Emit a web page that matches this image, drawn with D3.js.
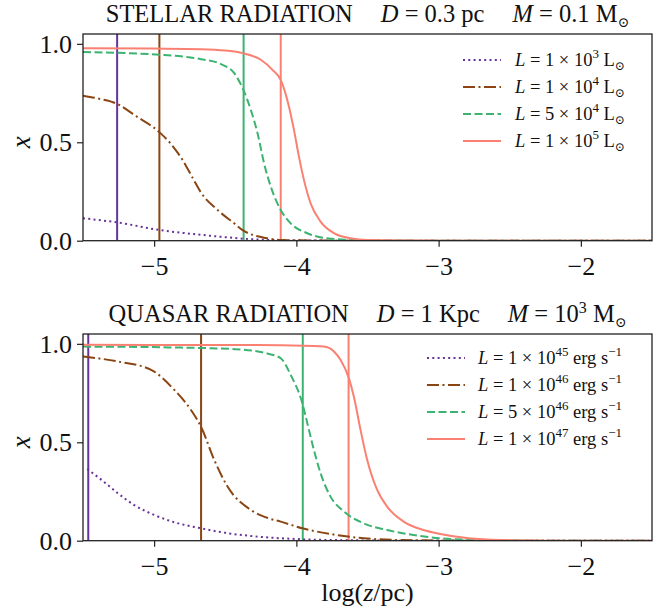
<!DOCTYPE html>
<html>
<head>
<meta charset="utf-8">
<script src="https://cdn.jsdelivr.net/npm/d3@7"></script>
<style>
  body { margin: 0; background: #fff; }
  text { font-family: "Liberation Serif", "DejaVu Serif", serif; fill: #111; }
</style>
</head>
<body>
<svg id="canvas" width="670" height="616"></svg>
<script>
// ---- data: [log(z/pc), x] ----
const stellar1e3 = [[-5.5,0.114],[-5.26,0.093],[-4.96,0.054],[-4.7,0.032],[-4.5,0.018],[-4.37,0.010],[-4.2,0.004],[-4.0,0.001],[-3.5,0],[-1.5,0]];
const stellar1e4 = [[-5.5,0.737],[-5.38,0.72],[-5.26,0.695],[-5.14,0.639],[-4.96,0.549],[-4.88,0.49],[-4.80,0.41],[-4.73,0.32],[-4.671,0.245],[-4.554,0.156],[-4.437,0.088],[-4.378,0.054],[-4.203,0.012],[-4.11,0.004],[-3.9,0.001],[-3.5,0],[-1.5,0]];
const stellar5e4 = [[-5.5,0.958],[-5.2,0.953],[-4.96,0.945],[-4.8,0.936],[-4.671,0.922],[-4.53,0.897],[-4.437,0.851],[-4.378,0.775],[-4.32,0.664],[-4.273,0.546],[-4.227,0.393],[-4.18,0.275],[-4.11,0.156],[-4.04,0.088],[-3.923,0.038],[-3.783,0.012],[-3.6,0.004],[-3.3,0.001],[-3.0,0],[-1.5,0]];
const stellar1e5 = [[-5.5,0.978],[-5.0,0.976],[-4.671,0.973],[-4.5,0.966],[-4.378,0.953],[-4.25,0.919],[-4.168,0.868],[-4.11,0.817],[-4.052,0.681],[-4.017,0.563],[-3.982,0.427],[-3.947,0.309],[-3.9,0.19],[-3.83,0.097],[-3.736,0.038],[-3.62,0.012],[-3.5,0.003],[-3.2,0.001],[-2.8,0],[-1.5,0]];

const quasar1e45 = [[-5.47,0.364],[-5.37,0.309],[-5.255,0.241],[-5.14,0.181],[-5.0,0.131],[-4.85,0.092],[-4.67,0.063],[-4.5,0.04],[-4.32,0.024],[-3.95,0.007],[-3.6,0.002],[-3.2,0],[-1.5,0]];
const quasar1e46 = [[-5.5,0.936],[-5.254,0.91],[-5.021,0.868],[-4.858,0.766],[-4.741,0.664],[-4.671,0.58],[-4.577,0.41],[-4.484,0.275],[-4.32,0.156],[-4.2,0.115],[-4.11,0.097],[-3.958,0.063],[-3.76,0.034],[-3.526,0.012],[-3.3,0.004],[-3.0,0.001],[-2.7,0],[-1.5,0]];
const quasar5e46 = [[-5.5,0.986],[-4.9,0.982],[-4.43,0.973],[-4.2,0.95],[-4.11,0.927],[-4.04,0.842],[-3.958,0.698],[-3.923,0.597],[-3.877,0.461],[-3.83,0.343],[-3.76,0.224],[-3.666,0.148],[-3.526,0.088],[-3.362,0.054],[-3.176,0.029],[-2.99,0.012],[-2.79,0.005],[-2.5,0.001],[-2.2,0],[-1.5,0]];
const quasar1e47 = [[-5.5,0.995],[-4.5,0.994],[-4.11,0.993],[-3.807,0.986],[-3.736,0.961],[-3.69,0.919],[-3.631,0.826],[-3.596,0.732],[-3.549,0.563],[-3.502,0.41],[-3.432,0.258],[-3.362,0.173],[-3.246,0.097],[-3.106,0.054],[-2.989,0.034],[-2.788,0.012],[-2.554,0.003],[-2.2,0],[-1.5,0]];

// ionisation-front positions (vertical lines)
const stellarFronts = [-5.26, -4.963, -4.371, -4.11];
const quasarFronts = [-5.463, -4.67, -3.955, -3.633];

const stellarMantissa = ["1", "1", "5", "1"];
const stellarExponent = ["3", "4", "4", "5"];
const quasarMantissa = ["1", "1", "5", "1"];
const quasarExponent = ["45", "46", "46", "47"];

const xTicks = [-5, -4, -3, -2];
const yTicks = [0, 0.5, 1.0];

const colors = ["rebeccapurple", "saddlebrown", "mediumseagreen", "salmon"];
const dashes = ["2,3.3", "12,3.5,2,3.5", "8,3.5", null];

const svg = d3.select("#canvas");

const left = 83, right = 652;
const x = d3.scaleLinear().domain([-5.5, -1.5]).range([left, right]);

const panels = [
    { top: 34, bottom: 240.7, title: "STELLAR RADIATION", D: "0.3 pc", M: "0.1",
      curves: [stellar1e3, stellar1e4, stellar5e4, stellar1e5], fronts: stellarFronts,
      mant: stellarMantissa, expo: stellarExponent, unit: "sun",
      legX: 463, legY: 60, textX: 515 },
    { top: 334, bottom: 540.7, title: "QUASAR RADIATION", D: "1 Kpc", M: "10^3",
      curves: [quasar1e45, quasar1e46, quasar5e46, quasar1e47], fronts: quasarFronts,
      mant: quasarMantissa, expo: quasarExponent, unit: "erg",
      legX: 427, legY: 358, textX: 478 }
];

panels.forEach((p, pi) => {
    const y = d3.scaleLinear().domain([0, 1.05]).range([p.bottom, p.top]);
    const g = svg.append("g");

    const clipId = "clip" + pi;
    svg.append("clipPath").attr("id", clipId)
        .append("rect").attr("x", left).attr("y", p.top).attr("width", right - left).attr("height", p.bottom - p.top);

    const plot = g.append("g").attr("clip-path", `url(#${clipId})`);

    const line = d3.line().x(d => x(d[0])).y(d => y(d[1])).curve(d3.curveMonotoneX);

    p.fronts.forEach((f, i) => {
        plot.append("line")
            .attr("x1", x(f)).attr("x2", x(f))
            .attr("y1", p.top).attr("y2", p.bottom)
            .attr("stroke", colors[i]).attr("stroke-width", 2);
    });

    p.curves.forEach((c, i) => {
        plot.append("path")
            .attr("d", line(c))
            .attr("fill", "none")
            .attr("stroke", colors[i])
            .attr("stroke-width", 2)
            .attr("stroke-dasharray", dashes[i]);
    });

    // frame
    g.append("rect")
        .attr("x", left).attr("y", p.top)
        .attr("width", right - left).attr("height", p.bottom - p.top)
        .attr("fill", "none").attr("stroke", "#222").attr("stroke-width", 1.3);

    const xAxis = g.append("g").attr("transform", `translate(0,${p.bottom})`)
        .call(d3.axisBottom(x).tickValues(xTicks).tickSize(6).tickSizeOuter(0).tickPadding(6).tickFormat(d3.format("d")));
    const yAxis = g.append("g").attr("transform", `translate(${left},0)`)
        .call(d3.axisLeft(y).tickValues(yTicks).tickSize(6).tickSizeOuter(0).tickPadding(5).tickFormat(d3.format(".1f")));
    [xAxis, yAxis].forEach(a => {
        a.select(".domain").remove();
        a.selectAll(".tick line").attr("stroke", "#222").attr("stroke-width", 1.2);
        a.selectAll(".tick text").attr("font-size", 26).attr("fill", "#111");
    });
    xAxis.selectAll(".tick text").attr("dy", null).attr("y", 34);

    // y label
    g.append("text")
        .attr("transform", `translate(30,${y(0.5)}) rotate(-90)`)
        .attr("text-anchor", "middle")
        .attr("font-size", 27).attr("font-style", "italic")
        .text("x");

    // title
    const t = g.append("text").attr("x", (left + right) / 2).attr("y", p.top - 12)
        .attr("text-anchor", "middle").attr("font-size", 24.5);
    t.append("tspan").text(p.title);
    t.append("tspan").attr("dx", 28).attr("font-style", "italic").text("D");
    t.append("tspan").text(" = " + p.D);
    t.append("tspan").attr("dx", 28).attr("font-style", "italic").text("M");
    if (p.M.includes("^")) {
        const [b, e] = p.M.split("^");
        t.append("tspan").text(" = " + b);
        t.append("tspan").attr("dy", -9).attr("font-size", 16).text(e);
        t.append("tspan").attr("dy", 9).text(" M");
    } else {
        t.append("tspan").text(" = " + p.M + " M");
    }
    t.append("tspan").attr("dy", 5).attr("font-size", 14).text("⊙");

    // legend
    p.curves.forEach((c, i) => {
        const ly = p.legY + i * 27;
        g.append("line")
            .attr("x1", p.legX).attr("x2", p.legX + 38)
            .attr("y1", ly).attr("y2", ly)
            .attr("stroke", colors[i]).attr("stroke-width", 2)
            .attr("stroke-dasharray", dashes[i]);
        const lt = g.append("text").attr("x", p.textX).attr("y", ly + 6).attr("font-size", 18.5);
        lt.append("tspan").attr("font-style", "italic").text("L");
        lt.append("tspan").text(" = " + p.mant[i] + " × 10");
        lt.append("tspan").attr("dy", -8).attr("font-size", 13).text(p.expo[i]);
        if (p.unit === "sun") {
            lt.append("tspan").attr("dy", 8).text(" L");
            lt.append("tspan").attr("dy", 4).attr("font-size", 12).text("⊙");
        } else {
            lt.append("tspan").attr("dy", 8).text(" erg s");
            lt.append("tspan").attr("dy", -8).attr("font-size", 13).text("−1");
        }
    });
});

// x label
svg.append("text")
    .attr("x", (left + right) / 2).attr("y", 601)
    .attr("text-anchor", "middle").attr("font-size", 26)
    .call(s => {
        s.append("tspan").text("log(");
        s.append("tspan").attr("font-style", "italic").text("z");
        s.append("tspan").text("/pc)");
    });
</script>
</body>
</html>
